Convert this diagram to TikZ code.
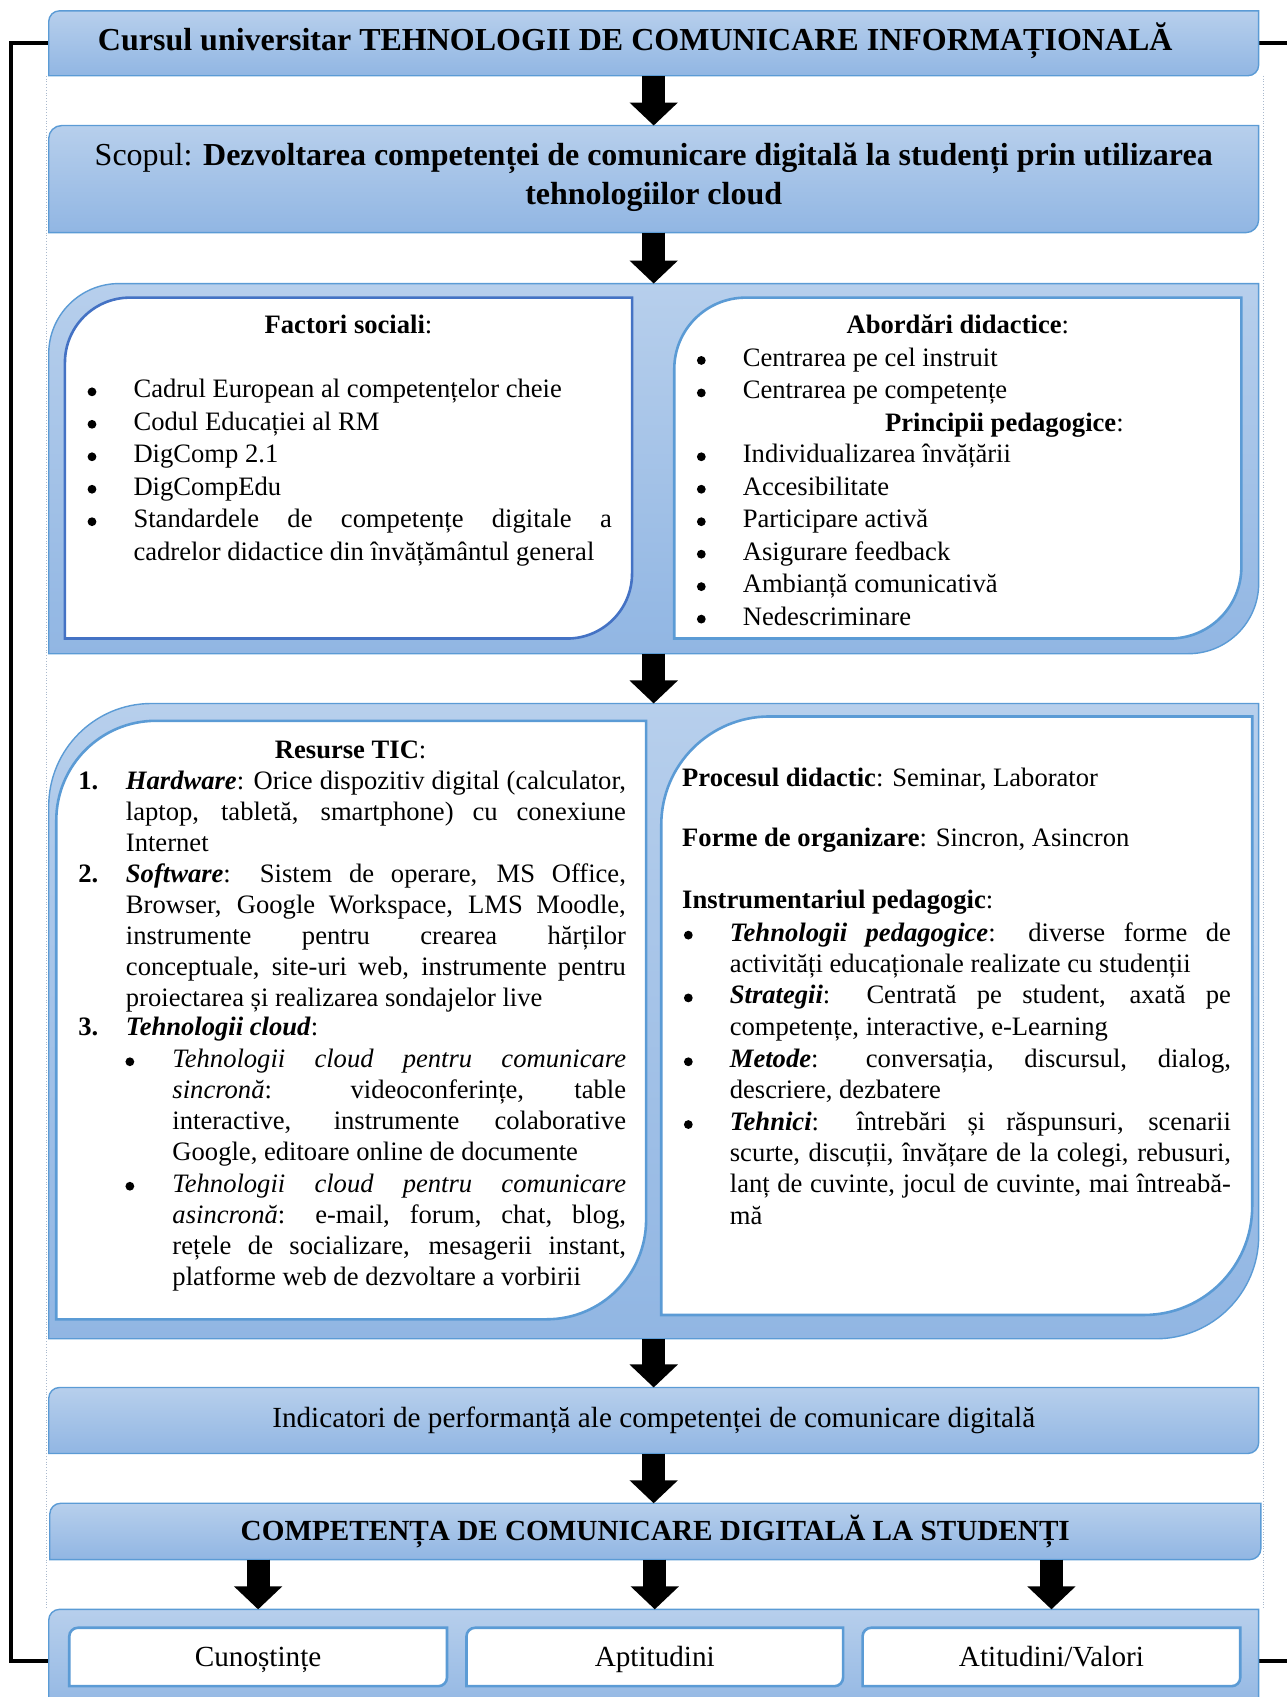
\documentclass[tikz,border=0pt]{standalone}
\usepackage{fontspec}
\setmainfont{Liberation Serif}
\usetikzlibrary{arrows.meta,fit,calc}
\definecolor{gTop}{RGB}{183,207,236}
\definecolor{gBot}{RGB}{145,182,227}
\definecolor{eBlue}{RGB}{91,155,213}
\definecolor{dBlue}{RGB}{68,114,196}
\definecolor{frameGray}{RGB}{170,185,205}
\newcommand\bodyf{\fontsize{13.3}{16.2}\selectfont\tolerance=10000\hyphenpenalty=10000\relax}
\newcommand\listf{\fontsize{13.3}{15.5}\selectfont\tolerance=10000\hyphenpenalty=10000\relax}
\newcommand\listg{\fontsize{13.3}{15.6}\selectfont\tolerance=10000\hyphenpenalty=10000\relax}
\newcommand\headf{\fontsize{16}{19.5}\selectfont}
\newcommand\labf{\fontsize{14.6}{17}\selectfont}
\newcommand\dgbox[3]{%
  \path[#3] let \p1=(#1.north west), \p2=(#1.south east), \n1={#2*0.5412} in
  (\x1,\y2) -- (\x1,\y1-\n1)
  .. controls (\x1,\y1-0.448*\n1) and (\x1+0.448*\n1,\y1) .. (\x1+\n1,\y1)
  -- (\x2,\y1) -- (\x2,\y2+\n1)
  .. controls (\x2,\y2+0.448*\n1) and (\x2-0.448*\n1,\y2) .. (\x2-\n1,\y2) -- cycle;}
\begin{document}
\begin{tikzpicture}[x=0.5412pt,y=-0.5412pt,
  fitbox/.style={inner sep=0pt,outer sep=0pt,draw=none},
  outerbox/.style={draw=eBlue,line width=0.7pt,top color=gTop,bottom color=gBot},
  innerdark/.style={draw=dBlue,line width=1.3pt,fill=white},
  innerlight/.style={draw=eBlue,line width=1.3pt,fill=white},
  blockarrow/.style={line width=11.6pt,-{Triangle[width=23.5pt,length=11.5pt]}},
  feedback/.style={line width=2pt,black},
  framed/.style={frameGray,line width=0.4pt,densely dotted},
  ttl/.style={anchor=base,inner sep=0pt,font=\bodyf},
  bul/.style={circle,fill=black,draw=none,inner sep=0pt,minimum size=4.4pt,yshift=2.95pt},
  itm/.style={anchor=base west,inner sep=0pt,font=\bodyf},
  jst/.style={anchor=base west,inner sep=0pt,align=justify},
  lab/.style={inner sep=0pt,font=\labf}]
\useasboundingbox (0,0) rectangle (1189,1568);
\clip (0,0) rectangle (1189,1568);
% frames of the boxes
\node[fitbox,fit={(45,10)(1163,70)}] (top) {};
\node[fitbox,fit={(45,116)(1163,215)}] (scop) {};
\node[fitbox,fit={(45,262)(1163,604)}] (fact) {};
\node[fitbox,fit={(60,275)(584,590)}] (fsoc) {};
\node[fitbox,fit={(623,275)(1147,590)}] (abord) {};
\node[fitbox,fit={(45,650)(1163,1237)}] (proc) {};
\node[fitbox,fit={(52,666)(597,1219)}] (res) {};
\node[fitbox,fit={(611,662)(1157,1215)}] (instr) {};
\node[fitbox,fit={(45,1282)(1163,1343)}] (ind) {};
\node[fitbox,fit={(46,1389)(1165,1441)}] (comp) {};
\node[fitbox,fit={(45,1487)(1163,1583)}] (bot) {};
\node[fitbox,fit={(64,1504)(413,1558)}] (cun) {};
\node[fitbox,fit={(431,1504)(779,1558)}] (apt) {};
\node[fitbox,fit={(797,1504)(1146,1558)}] (ati) {};
% dotted text-frame lines
\draw[framed] (43,70) -- (43,1487);
\draw[framed] (1167,70) -- (1167,1487);
% feedback line
\coordinate (rT) at ($(top.east)+(40,0)$);
\coordinate (rB) at ($(bot.east)+(40,0)$);
\draw[feedback] (top.west) -- ++(-35,0) |- (bot.west);
\draw[feedback] (top.east) -- (rT);
\draw[feedback] (bot.east) -- (rB);
% box shapes
\dgbox{top}{10}{outerbox}
\dgbox{scop}{12}{outerbox}
\dgbox{fact}{65}{outerbox}
\dgbox{fsoc}{60}{innerdark}
\dgbox{abord}{66}{innerlight}
\dgbox{proc}{95}{outerbox}
\dgbox{res}{92}{innerlight}
\dgbox{instr}{100}{innerlight}
\dgbox{ind}{10}{outerbox}
\dgbox{comp}{10}{outerbox}
\dgbox{bot}{10}{outerbox}
\dgbox{cun}{8}{innerlight}
\dgbox{apt}{8}{innerlight}
\dgbox{ati}{8}{innerlight}
% arrows
\draw[blockarrow] (top.south) -- (top.south |- scop.north);
\draw[blockarrow] (scop.south) -- (scop.south |- fact.north);
\draw[blockarrow] (fact.south) -- (fact.south |- proc.north);
\draw[blockarrow] (proc.south) -- (proc.south |- ind.north);
\draw[blockarrow] (ind.south) -- (ind.south |- comp.north);
\draw[blockarrow] (comp.south -| cun.north) -- (bot.north -| cun.north);
\draw[blockarrow] (comp.south -| apt.north) -- (bot.north -| apt.north);
\draw[blockarrow] (comp.south -| ati.north) -- (bot.north -| ati.north);
% texts
\node[font=\headf\bfseries,inner sep=0pt] (topT) at ($(top.center)+(-17,-2)$) {Cursul universitar TEHNOLOGII DE COMUNICARE INFORMAȚIONALĂ};
\node[lab,anchor=base] (cunT) at ($(cun.center)+(0,9)$) {Cunoștințe};
\node[lab,anchor=base] (aptT) at ($(apt.center)+(0,9)$) {Aptitudini};
\node[lab,anchor=base] (atiT) at ($(ati.center)+(0,9)$) {Atitudini/Valori};
\begin{scope}[yshift=-1.35pt]
\node[font=\headf,inner sep=0pt,align=center] (scopT) at ($(scop.center)+(0,-2)$) {Scopul: \textbf{Dezvoltarea competenței de comunicare digitală la studenți prin utilizarea}\\\textbf{tehnologiilor cloud}};
% Factori sociali
\node[ttl] (fsT) at (322,306) {\textbf{Factori sociali}:};
\node[bul] (fsb1) at (85,365) {};
\node[itm] (fs1) at (123,365) {Cadrul European al competențelor cheie};
\node[bul] (fsb2) at (85,395) {};
\node[itm] (fs2) at (123,395) {Codul Educației al RM};
\node[bul] (fsb3) at (85,425) {};
\node[itm] (fs3) at (123,425) {DigComp 2.1};
\node[bul] (fsb4) at (85,455) {};
\node[itm] (fs4) at (123,455) {DigCompEdu};
\node[bul] (fsb5) at (85,485) {};
\node[jst,font=\bodyf,text width=239.2pt] (fs5) at (123,485) {Standardele de competențe digitale a\linebreak cadrelor didactice din învățământul general};
% Abordari didactice
\node[ttl] (abT) at (885,306) {\textbf{Abordări didactice}:};
\node[bul] (abb1) at (648,336) {};
\node[itm] (ab1) at (686,336) {Centrarea pe cel instruit};
\node[bul] (abb2) at (648,366) {};
\node[itm] (ab2) at (686,366) {Centrarea pe competențe};
\node[ttl] (ppT) at (928,396) {\textbf{Principii pedagogice}:};
\node[bul] (ppb1) at (648,425) {};
\node[itm] (pp1) at (686,425) {Individualizarea învățării};
\node[bul] (ppb2) at (648,455) {};
\node[itm] (pp2) at (686,455) {Accesibilitate};
\node[bul] (ppb3) at (648,485) {};
\node[itm] (pp3) at (686,485) {Participare activă};
\node[bul] (ppb4) at (648,515) {};
\node[itm] (pp4) at (686,515) {Asigurare feedback};
\node[bul] (ppb5) at (648,545) {};
\node[itm] (pp5) at (686,545) {Ambianță comunicativă};
\node[bul] (ppb6) at (648,575) {};
\node[itm] (pp6) at (686,575) {Nedescriminare};
% Resurse TIC
\node[ttl] (resT) at (324,698) {\textbf{Resurse TIC}:};
\node[itm,font=\listf\bfseries] (rn1) at (72,727) {1.};
\node[jst,font=\listf,text width=250pt] (r1) at (116,727) {\textbf{\textit{Hardware}}: Orice dispozitiv digital (calculator,\linebreak laptop, tabletă, smartphone) cu conexiune\linebreak Internet};
\node[itm,font=\listf\bfseries] (rn2) at (72,813) {2.};
\node[jst,font=\listf,text width=250pt] (r2) at (116,813) {\textbf{\textit{Software}}: Sistem de operare, MS Office,\linebreak Browser, Google Workspace, LMS Moodle,\linebreak instrumente pentru crearea hărților\linebreak conceptuale, site-uri web, instrumente pentru\linebreak proiectarea și realizarea sondajelor live};
\node[itm,font=\listf\bfseries] (rn3) at (72,954) {3.};
\node[itm,font=\listf] (r3) at (116,954) {\textbf{\textit{Tehnologii cloud}}:};
\node[bul] (rb1) at (120,984) {};
\node[jst,font=\listf,text width=226.8pt] (r3a) at (159,984) {\textit{Tehnologii cloud pentru comunicare\linebreak sincronă}: videoconferințe, table\linebreak interactive, instrumente colaborative\linebreak Google, editoare online de documente};
\node[bul] (rb2) at (120,1099) {};
\node[jst,font=\listf,text width=226.8pt] (r3b) at (159,1099) {\textit{Tehnologii cloud pentru comunicare\linebreak asincronă}: e-mail, forum, chat, blog,\linebreak rețele de socializare, mesagerii instant,\linebreak platforme web de dezvoltare a vorbirii};
% Proces didactic
\node[itm] (pd) at (630,724) {\textbf{Procesul didactic}: Seminar, Laborator};
\node[itm] (fo) at (630,780) {\textbf{Forme de organizare}: Sincron, Asincron};
\node[itm] (ip) at (630,837) {\textbf{Instrumentariul pedagogic}:};
\node[bul] (ipb1) at (636,867) {};
\node[jst,font=\listg,text width=250.6pt] (ip1) at (674,867) {\textbf{\textit{Tehnologii pedagogice}}: diverse forme de\linebreak activități educaționale realizate cu studenții};
\node[bul] (ipb2) at (636,925) {};
\node[jst,font=\listg,text width=250.6pt] (ip2) at (674,925) {\textbf{\textit{Strategii}}: Centrată pe student, axată pe\linebreak competențe, interactive, e-Learning};
\node[bul] (ipb3) at (636,984) {};
\node[jst,font=\listg,text width=250.6pt] (ip3) at (674,984) {\textbf{\textit{Metode}}: conversația, discursul, dialog,\linebreak descriere, dezbatere};
\node[bul] (ipb4) at (636,1042) {};
\node[jst,font=\listg,text width=250.6pt] (ip4) at (674,1042) {\textbf{\textit{Tehnici}}: întrebări și răspunsuri, scenarii\linebreak scurte, discuții, învățare de la colegi, rebusuri,\linebreak lanț de cuvinte, jocul de cuvinte, mai întreabă-\linebreak mă};
% lower boxes
\node[lab] (indT) at (ind.center) {Indicatori de performanță ale competenței de comunicare digitală};
\node[lab,font=\labf\bfseries] (compT) at (comp.center) {COMPETENȚA DE COMUNICARE DIGITALĂ LA STUDENȚI};
\end{scope}
\end{tikzpicture}
\end{document}
